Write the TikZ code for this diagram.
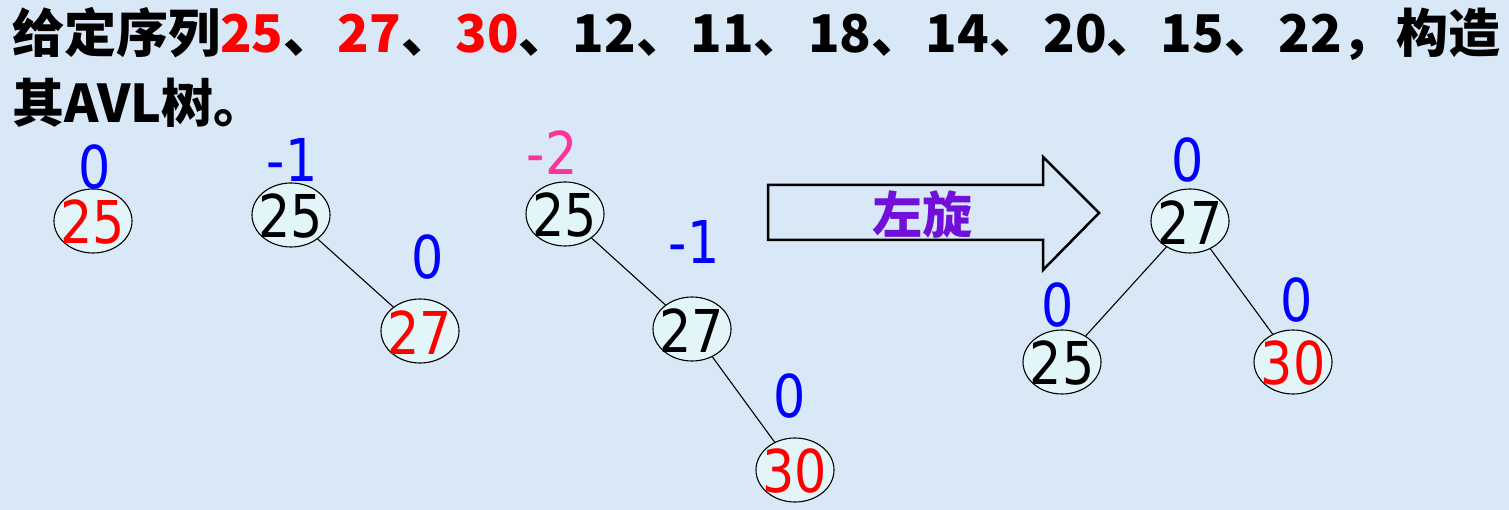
\documentclass[tikz,border=0pt]{standalone}
\usepackage{fontspec}
\newfontfamily\cjk{Noto Sans CJK SC}
\newfontfamily\numf{DejaVu Sans}[FakeStretch=0.86]
\usetikzlibrary{shapes.geometric}
\definecolor{bgblue}{HTML}{D9E8F7}
\definecolor{nodefill}{HTML}{E2F5F8}
\definecolor{balblue}{HTML}{0000FF}
\definecolor{balpink}{HTML}{FF3399}
\definecolor{rotpurple}{HTML}{7010D8}
\newcommand\gapx{\hfil{}}
\tikzset{
  tn/.style={ellipse, draw=black, line width=1.1pt, fill=nodefill,
    minimum width=78pt, minimum height=64pt, inner sep=0pt},
  numtxt/.style={font=\numf\fontsize{59pt}{59pt}\selectfont, inner sep=0pt, yshift=-1.5pt},
  bal/.style={font=\numf\fontsize{59pt}{59pt}\selectfont, text=balblue, inner sep=0pt},
  treeedge/.style={line width=1.1pt, black},
  titletxt/.style={font=\cjk\bfseries\fontsize{52pt}{52pt}\selectfont, inner sep=0pt},
}
\begin{document}
\begin{tikzpicture}[x=1pt,y=-1pt]
\useasboundingbox (0,0) rectangle (1509,510);
\fill[bgblue] (0,0) rectangle (1509,510);
% title
\node[titletxt, anchor=base west] (t1) at (12,53)
  {\makebox[1488pt][s]{给定序列\textcolor{red}{25}、\gapx\textcolor{red}{27}、\gapx\textcolor{red}{30}、\gapx 12、\gapx 11、\gapx 18、\gapx 14、\gapx 20、\gapx 15、\gapx 22，\gapx 构造}};
\node[titletxt, anchor=base west] (t2) at (12,123) {其AVL树。};
% tree 1
\node[tn, label={[numtxt,text=red]center:25}] (a1) at (93,221) {};
\node[bal] (b1) at (95,167) {0};
% tree 2
\node[tn, label={[numtxt,text=black]center:25}] (a2) at (291,215) {};
\node[tn, label={[numtxt,text=red]center:27}] (c2) at (420,331) {};
\node[bal] (ba2) at (292,160) {-1};
\node[bal] (bc2) at (428,257) {0};
\draw[treeedge] (a2) -- (c2);
% tree 3
\node[tn, label={[numtxt,text=black]center:25}] (a3) at (565,214) {};
\node[tn, label={[numtxt,text=black]center:27}] (c3) at (692,329) {};
\node[tn, label={[numtxt,text=red]center:30}] (d3) at (795,470) {};
\node[bal, text=balpink] (ba3) at (552,153) {-2};
\node[bal] (bc3) at (694,242) {-1};
\node[bal] (bd3) at (790,396) {0};
\draw[treeedge] (a3) -- (c3);
\draw[treeedge] (c3) -- (d3);
% arrow
\draw[line width=2.5pt, line join=miter] (768,185) -- (1043,185) -- (1043,157) -- (1099,213)
  -- (1043,270) -- (1043,240) -- (768,240) -- cycle;
\node[font=\cjk\bfseries\fontsize{50pt}{50pt}\selectfont, text=rotpurple, inner sep=0pt] (rot) at (922,214) {左旋};
% tree 4
\node[tn, label={[numtxt,text=black]center:27}] (c4) at (1190,221) {};
\node[tn, label={[numtxt,text=black]center:25}] (a4) at (1062,362) {};
\node[tn, label={[numtxt,text=red]center:30}] (d4) at (1293,362) {};
\node[bal] (bc4) at (1188,160) {0};
\node[bal] (ba4) at (1058,305) {0};
\node[bal] (bd4) at (1297,300) {0};
\draw[treeedge] (c4) -- (a4);
\draw[treeedge] (c4) -- (d4);
\end{tikzpicture}
\end{document}
